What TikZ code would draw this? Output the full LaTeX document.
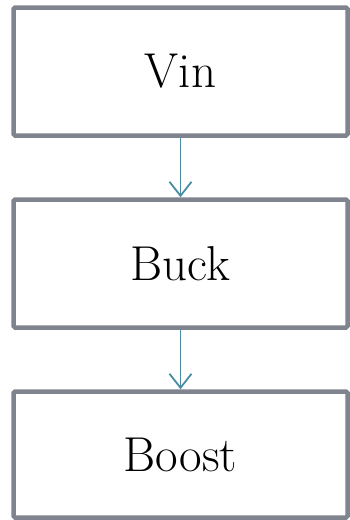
\documentclass[tikz,border=0pt]{standalone}
\usepackage{fontspec}
\setmainfont{Latin Modern Roman}
\usetikzlibrary{arrows.meta}
\definecolor{boxgray}{HTML}{7F848E}
\definecolor{arrteal}{HTML}{4A8CA3}
\begin{document}
\begin{tikzpicture}[x=1pt,y=1pt,
  blk/.style={draw=boxgray,line width=4.5pt,rounded corners=1.5pt,fill=white,minimum width=334pt,minimum height=128pt,inner sep=0pt,font=\fontsize{49}{58}\selectfont},
  conn/.style={draw=arrteal,line width=1.8pt,-{Straight Barb[length=14pt,width=22pt,line width=1.8pt]}}]
\useasboundingbox (0,0) rectangle (349,-520);
\node[blk] (vin) at (180.5,-71.5) {Vin};
\node[blk] (buck) at (180.5,-263.5) {Buck};
\node[blk,minimum height=126pt] (boost) at (180.5,-454.5) {Boost};
\draw[conn] (vin.south) -- (buck.north);
\draw[conn] (buck.south) -- (boost.north);
\end{tikzpicture}
\end{document}
